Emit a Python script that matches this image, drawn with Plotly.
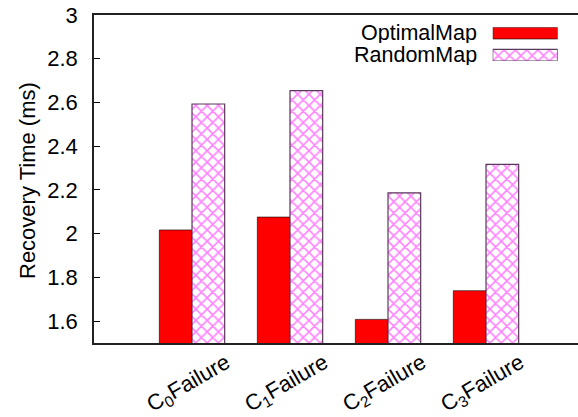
import plotly.graph_objects as go

categories = ["C<sub>0</sub>Failure", "C<sub>1</sub>Failure", "C<sub>2</sub>Failure", "C<sub>3</sub>Failure"]
series_names = ["OptimalMap", "RandomMap"]
optimal = [2.017, 2.076, 1.608, 1.739]
random_map = [2.593, 2.654, 2.187, 2.317]
y_ticks = [1.6, 1.8, 2.0, 2.2, 2.4, 2.6, 2.8, 3.0]

W, H = 578, 417
L, R, T, B = 94, 0, 15, 74
PW, PH = W - L - R, H - T - B
FONT = "Liberation Sans, Arial, Helvetica, sans-serif"
FS = 22

def px_x(x):
    return (x - L) / PW

def px_y(y):
    return (H - B - y) / PH

xpos = list(range(len(categories)))

red_style = dict(color="#ff0000", line=dict(color="#000000", width=0.6))
rand_style = dict(color="#ffffff",
                  pattern=dict(shape="x", fgcolor="#ff00ff", bgcolor="#ffffff", size=8, solidity=0.35),
                  line=dict(color="#5a3a5a", width=1.2))

fig = go.Figure()
fig.add_trace(go.Bar(x=xpos, y=optimal, name=series_names[0], marker=red_style, showlegend=False))
fig.add_trace(go.Bar(x=xpos, y=random_map, name=series_names[1], marker=rand_style, showlegend=False))

# manual legend key boxes (gnuplot style: text on the left, key box on the right)
fig.add_trace(go.Bar(x=[1], y=[1], orientation="h", marker=red_style, width=0.53,
                     xaxis="x2", yaxis="y2", showlegend=False, hoverinfo="skip"))
fig.add_trace(go.Bar(x=[1], y=[0], orientation="h", marker=rand_style, width=0.53,
                     xaxis="x2", yaxis="y2", showlegend=False, hoverinfo="skip"))

annotations = []
for i, c in enumerate(categories):
    annotations.append(dict(x=xpos[i], y=0, xref="x", yref="paper", text=c, showarrow=False,
                            textangle=-30, xanchor="center", yanchor="middle",
                            xshift=-3, yshift=-41,
                            font=dict(family=FONT, size=FS, color="#000")))
annotations.append(dict(x=px_x(27), y=px_y(181), xref="paper", yref="paper", text="Recovery Time (ms)",
                        showarrow=False, textangle=-90, xanchor="center", yanchor="middle",
                        font=dict(family=FONT, size=FS, color="#000")))
for name, yc in zip(series_names, [33, 55]):
    annotations.append(dict(x=px_x(479), y=px_y(yc), xref="paper", yref="paper", text=name,
                            showarrow=False, xanchor="right", yanchor="middle", height=20,
                            font=dict(family=FONT, size=21.5, color="#000")))

fig.update_layout(
    width=W, height=H,
    margin=dict(l=L, r=R, t=T, b=B, pad=0),
    paper_bgcolor="white", plot_bgcolor="white",
    barmode="group", bargap=1/3, bargroupgap=0,
    font=dict(family=FONT, size=FS, color="#000"),
    xaxis=dict(range=[-1, (W - R - L) / 98 - 1], showticklabels=False, ticks="", automargin=False,
               showgrid=False, zeroline=False, showline=True, linecolor="#222", linewidth=1.5,
               mirror=True),
    yaxis=dict(range=[1.5, 3.0], tickvals=y_ticks, ticktext=[f"{v:g}" for v in y_ticks],
               ticks="inside", ticklen=6, tickcolor="#000", tickwidth=1, automargin=False,
               ticklabelstandoff=10,
               showgrid=False, zeroline=False, showline=True, linecolor="#222", linewidth=1.5,
               mirror=False, tickfont=dict(family=FONT, size=FS, color="#000")),
    xaxis2=dict(domain=[px_x(492.7), px_x(557.7)], range=[0, 1], anchor="y2", visible=False),
    yaxis2=dict(domain=[px_y(61), px_y(27.3)], range=[-0.266, 1.266], anchor="x2", visible=False),
    annotations=annotations,
)

fig.write_html("out.html")
